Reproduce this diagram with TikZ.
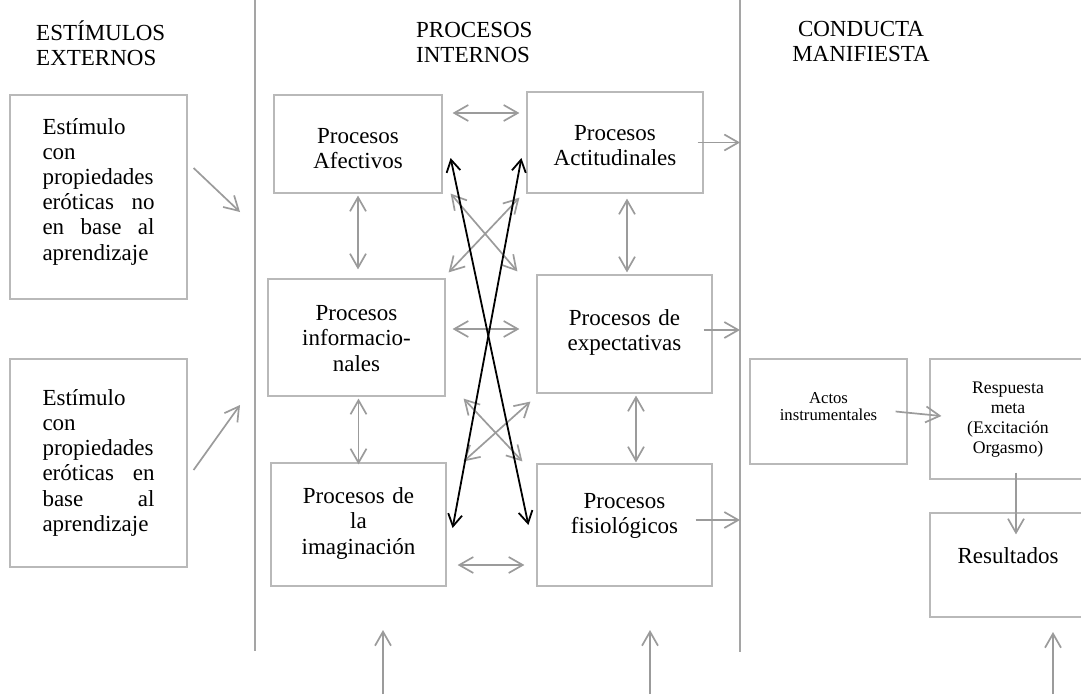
\documentclass[tikz,border=0pt]{standalone}
\usepackage{fontspec}
\setmainfont{Liberation Serif}
\usetikzlibrary{arrows.meta}
\definecolor{boxgray}{RGB}{185,185,185}
\definecolor{arrgray}{RGB}{155,155,155}
\definecolor{sepgray}{RGB}{165,165,165}

\begin{document}
\begin{tikzpicture}[x=1pt, y=-1pt,
  every node/.style={font=\fontsize{23}{25.5}\selectfont, inner sep=0pt},
  box/.style={draw=boxgray, line width=1.2pt, text width=150, align=center, text height=16pt},
  twoway/.style={{Straight Barb[length=14pt,width=16pt]}-{Straight Barb[length=14pt,width=16pt]}, draw=arrgray, line width=1.7pt},
  oneway/.style={-{Straight Barb[length=14pt,width=16pt]}, draw=arrgray, line width=1.7pt},
  cross/.style={{Straight Barb[length=12pt,width=14pt]}-{Straight Barb[length=12pt,width=14pt]}, draw=black, line width=1.8pt}]
  \useasboundingbox (0,0) rectangle (1081,694);
  \clip (0,0) rectangle (1081,694);

  % Headers
  \node[text width=140, align=left, anchor=base west] (hExt) at (36,40) {ESTÍMULOS\\EXTERNOS};
  \node[text width=130, align=left, anchor=base west] (hInt) at (416,37) {PROCESOS\\INTERNOS};
  \node[text width=150, align=center, anchor=base] (hCond) at (861,36) {CONDUCTA\\MANIFIESTA};

  % Separators
  \draw[sepgray, line width=1.5pt] (255,0) -- (255,651);
  \draw[sepgray, line width=1.5pt] (740,0) -- (740,652);

  % External stimuli
  \node[box, minimum width=177, minimum height=204, text width=112, align=left, text depth=142pt,
    font=\fontsize{23}{25.2}\selectfont] (estA) at (98.5,197)
    {Estímulo\\con\\propiedades\\eróticas\hfill no\\en\hfill base\hfill al\\aprendizaje};
  \node[box, minimum width=177, minimum height=208, text width=112, align=left, text depth=132pt,
    font=\fontsize{23}{25.3}\selectfont] (estB) at (98.5,463)
    {Estímulo\\con\\propiedades\\eróticas\hfill en\\base\hfill al\\aprendizaje};
  \coordinate (inA) at (240,212);
  \coordinate (inB) at (240,405);
  \draw[oneway] ([xshift=6pt,yshift=29pt]estA.east) -- (inA);
  \draw[oneway] ([xshift=6pt,yshift=-7pt]estB.east) -- (inB);

  % Internal processes
  \node[box, minimum width=168, minimum height=98, text depth=18pt] (afect) at (358,144) {Procesos\\Afectivos};
  \node[box, minimum width=176, minimum height=101, text depth=21pt] (actit) at (615,142.5) {Procesos\\Actitudinales};
  \node[box, minimum width=177, minimum height=117, text depth=51pt] (info) at (356.5,337.5) {Procesos\\informacio-\\nales};
  \node[box, minimum width=175, minimum height=118, text depth=34pt] (expect) at (624.5,334) {Procesos de\\expectativas};
  \node[box, minimum width=175, minimum height=123, text depth=59pt] (imag) at (358.5,524.5) {Procesos de\\la\\imaginación};
  \node[box, minimum width=175, minimum height=122, text depth=50pt] (fisio) at (624.5,525) {Procesos\\fisiológicos};

  \draw[twoway, shorten <=10pt, shorten >=7pt] ([yshift=31pt]afect.east) -- ([yshift=31pt]afect.east -| actit.west);
  \draw[twoway, shorten <=7pt, shorten >=17pt] ([yshift=8.5pt]info.east) -- ([yshift=8.5pt]info.east -| expect.west);
  \draw[twoway, shorten <=11pt, shorten >=12pt] ([yshift=-40.5pt]imag.east) -- ([yshift=-40.5pt]imag.east -| fisio.west);

  \draw[twoway, shorten <=2pt, shorten >=9pt] (afect.south) -- (afect.south |- info.north);
  \draw[twoway, shorten <=5pt, shorten >=2pt] ([xshift=12pt]actit.south) -- ([xshift=12pt]actit.south |- expect.north);
  \draw[twoway, shorten <=2pt, shorten >=-2pt] (imag.north |- info.south) -- (imag.north);
  \draw[twoway, shorten <=2pt, shorten >=1pt] ([xshift=11.5pt]expect.south) -- ([xshift=11.5pt]expect.south |- fisio.north);

  \draw[twoway] ([xshift=8pt]afect.south east) -- ([xshift=-19pt,yshift=3pt]expect.north west);
  \draw[twoway] ([xshift=3pt,yshift=6pt]info.north east) -- ([xshift=-7pt,yshift=-4pt]actit.south west);
  \draw[twoway] ([xshift=18pt,yshift=-2pt]info.south east) -- ([xshift=-14pt,yshift=2pt]fisio.north west);
  \draw[twoway] ([xshift=17pt,yshift=1pt]imag.north east) -- ([xshift=-6pt,yshift=-8pt]expect.south west);

  \draw[cross] ([xshift=8pt,yshift=-14pt]afect.east) -- ([xshift=-8pt]fisio.west);
  \draw[cross] ([xshift=-5pt,yshift=-15.5pt]actit.west) -- ([xshift=6pt,yshift=-3.5pt]imag.east);

  \coordinate (outA) at (740,142.5);
  \coordinate (outB) at (740,330);
  \coordinate (outC) at (740,520);
  \draw[oneway] ([xshift=-6pt]actit.east) -- (outA);
  \draw[oneway] ([xshift=-9pt,yshift=4pt]expect.east) -- (outB);
  \draw[oneway] ([xshift=-17pt,yshift=5pt]fisio.east) -- (outC);

  % Overt behaviour
  \node[box, minimum width=157, minimum height=105, text width=140, text height=11.5pt, text depth=28.5pt,
    font=\fontsize{16.7}{17.5}\selectfont] (actos) at (828.5,411.5) {Actos\\instrumentales};
  \node[box, minimum width=156, minimum height=120, text width=140, text height=12.5pt, text depth=64.5pt,
    font=\fontsize{17.7}{20}\selectfont] (resp) at (1008,419) {Respuesta\\meta\\(Excitación\\Orgasmo)};
  \node[box, minimum width=156, minimum height=104, text width=140, text depth=20pt] (result) at (1008,565) {Resultados};
  \draw[oneway] ([xshift=-12pt]actos.east) -- ([xshift=12pt,yshift=3pt]resp.west);
  \draw[oneway] ([xshift=8pt,yshift=7pt]resp.south) -- ([xshift=8pt,yshift=-22pt]result.north);

  % Bottom inputs
  \coordinate (botA) at (383,694);
  \coordinate (topA) at (383,630);
  \coordinate (botB) at (650,694);
  \coordinate (topB) at (650,630);
  \coordinate (botC) at (1053,694);
  \coordinate (topC) at (1053,632);
  \draw[oneway] (botA) -- (topA);
  \draw[oneway] (botB) -- (topB);
  \draw[oneway] (botC) -- (topC);
\end{tikzpicture}
\end{document}
